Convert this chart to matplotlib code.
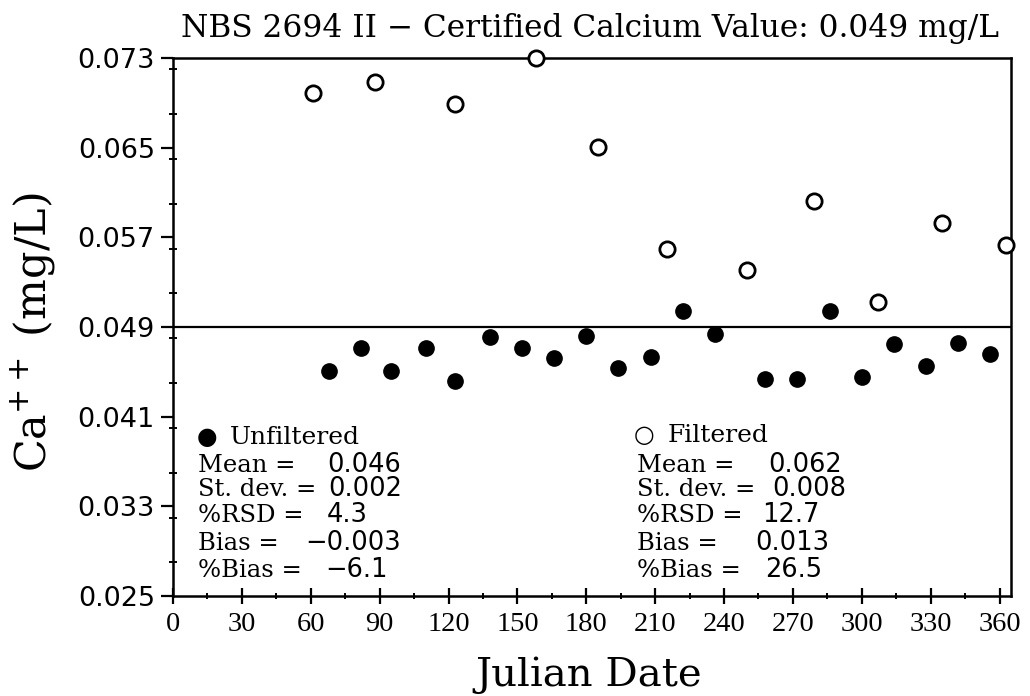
import matplotlib
matplotlib.use("Agg")
import matplotlib.pyplot as plt
from matplotlib.ticker import MultipleLocator, FixedLocator

filt_day = [61, 88, 123, 158, 185, 215, 250, 279, 307, 335, 363]
filt_ca = [0.0699, 0.0709, 0.0689, 0.0730, 0.0651, 0.0560, 0.0541, 0.0602, 0.0512, 0.0583, 0.0563]

unf_day = [68, 82, 95, 110, 123, 138, 152, 166, 180, 194, 208, 222, 236, 258, 272, 286, 300, 314, 328, 342, 356]
unf_ca = [0.0451, 0.0471, 0.0451, 0.0471, 0.0442, 0.0481, 0.0471, 0.0462, 0.0482, 0.0453, 0.0463,
          0.0504, 0.0484, 0.0444, 0.0444, 0.0504, 0.0445, 0.0475, 0.0455, 0.0476, 0.0466]

certified = 0.049
y_ticks = [0.025, 0.033, 0.041, 0.049, 0.057, 0.065, 0.073]
x_ticks = list(range(0, 361, 30))

stat_names = ["Mean =", "St. dev. =", "%RSD =", "Bias =", "%Bias ="]
unf_stats = ["0.046", "0.002", "4.3", "\u22120.003", "\u22126.1"]
filt_stats = ["0.062", "0.008", "12.7", "0.013", "26.5"]

W, H = 1030, 696
fig = plt.figure(figsize=(W / 100, H / 100), dpi=100)
ax = fig.add_axes([173 / W, 1 - 596 / H, (1011 - 173) / W, (596 - 58) / H])

ax.plot(filt_day, filt_ca, 'o', ms=11, mfc='white', mec='black', mew=2, clip_on=False, zorder=3)
ax.plot(unf_day, unf_ca, 'o', ms=11, mfc='black', mec='black', clip_on=False, zorder=3)
ax.axhline(certified, color='black', lw=1.6)

ax.set_xlim(0, 365)
ax.set_ylim(0.025, 0.073)
ax.yaxis.set_major_locator(FixedLocator(y_ticks))
ax.yaxis.set_minor_locator(MultipleLocator(0.004))
ax.yaxis.set_major_formatter(matplotlib.ticker.FormatStrFormatter('%.3f'))
ax.xaxis.set_major_locator(FixedLocator(x_ticks))
ax.xaxis.set_minor_locator(MultipleLocator(15))

for s in ax.spines.values():
    s.set_linewidth(1.8)

ax.tick_params(axis='y', which='major', direction='out', length=9, width=1.6, pad=4, labelsize=19.5)
ax.tick_params(axis='y', which='minor', direction='inout', length=6, width=1.4)
ax.tick_params(axis='x', which='major', direction='inout', length=11, width=1.6, pad=6, labelsize=20.5)
ax.tick_params(axis='x', which='minor', direction='inout', length=5, width=1.4)
for lab in ax.get_xticklabels():
    lab.set_family('Liberation Serif')
for lab in ax.get_yticklabels():
    lab.set_family('DejaVu Sans')


def px(x, y):
    return x / W, 1 - y / H


fig.text(*px(590, 37), "NBS 2694 II \u2212 Certified Calcium Value: 0.049 mg/L",
         family='DejaVu Serif', fontsize=22.5, ha='center', va='baseline')
fig.text(*px(589, 686), "Julian Date", family='DejaVu Serif', fontsize=29, ha='center', va='baseline')
fig.text(*px(34, 332), "Ca$^{++}$ (mg/L)", family='DejaVu Serif', fontsize=31,
         rotation=90, ha='center', va='center')

# stats blocks
fig.text(*px(197, 444), "\u25cf", family='DejaVu Sans', fontsize=17, va='baseline')
fig.text(*px(230, 444), "Unfiltered", family='DejaVu Serif', fontsize=18, va='baseline')
fig.text(*px(634, 442), "\u25cb", family='DejaVu Sans', fontsize=17, va='baseline')
fig.text(*px(668, 442), "Filtered", family='DejaVu Serif', fontsize=18, va='baseline')

baselines = [472, 496, 522, 550, 577]
unf_x = [327, 328, 327, 305, 325]
filt_x = [768, 772, 762, 755, 765]
for i in range(len(stat_names)):
    fig.text(*px(198, baselines[i]), stat_names[i], family='DejaVu Serif', fontsize=17.5, va='baseline')
    fig.text(*px(unf_x[i], baselines[i]), unf_stats[i], family='DejaVu Sans', fontsize=18.5, va='baseline')
    fig.text(*px(637, baselines[i]), stat_names[i], family='DejaVu Serif', fontsize=17.5, va='baseline')
    fig.text(*px(filt_x[i], baselines[i]), filt_stats[i], family='DejaVu Sans', fontsize=18.5, va='baseline')

fig.savefig("out.png", dpi=100)
